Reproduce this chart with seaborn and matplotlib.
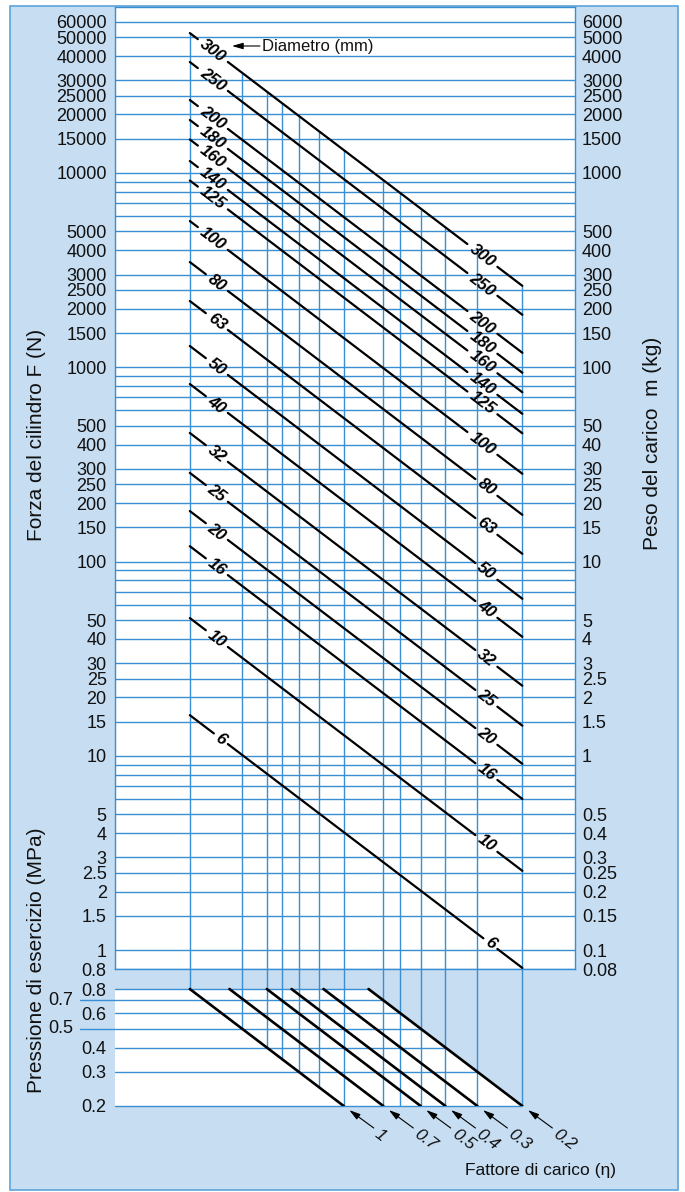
import math
import numpy as np
import pandas as pd
import matplotlib
matplotlib.use("Agg")
import matplotlib.pyplot as plt
import matplotlib.transforms as mtransforms
from matplotlib.patches import Rectangle
from matplotlib.ticker import NullLocator, FixedLocator, FixedFormatter
import seaborn as sns

# ---------------- data ----------------
DIAMETERS_MM = [300, 250, 200, 180, 160, 140, 125, 100, 80, 63, 50, 40, 32, 25, 20, 16, 10, 6]
# cylinder force (N) read on each bore line at p*eta = 0.8 MPa; force scales with p*eta
FORCE_AT_08_N = [52500, 37250, 23750, 18740, 14870, 11520, 9145, 5660, 3480, 2193,
                 1287, 820, 459, 286, 182, 120, 51.2, 16.2]
LOAD_FACTORS = [1, 0.7, 0.5, 0.4, 0.3, 0.2]
PRESSURE_MAX_MPA = 0.8
PRESSURE_MIN_MPA = 0.2

FORCE_TICKS_N = [60000, 50000, 40000, 30000, 25000, 20000, 15000, 10000,
                 5000, 4000, 3000, 2500, 2000, 1500, 1000,
                 500, 400, 300, 250, 200, 150, 100,
                 50, 40, 30, 25, 20, 15, 10,
                 5, 4, 3, 2.5, 2, 1.5, 1, 0.8]
FORCE_EXTRA_LINES_N = [9000, 8000, 7000, 6000, 900, 800, 700, 600,
                       90, 80, 70, 60, 9, 8, 7, 6]
MASS_TICKS_KG = [6000, 5000, 4000, 3000, 2500, 2000, 1500, 1000,
                 500, 400, 300, 250, 200, 150, 100,
                 50, 40, 30, 25, 20, 15, 10,
                 5, 4, 3, 2.5, 2, 1.5, 1,
                 0.5, 0.4, 0.3, 0.25, 0.2, 0.15, 0.1, 0.08]
PRESSURE_TICKS_MPA = [0.8, 0.7, 0.6, 0.5, 0.4, 0.3, 0.2]
PRESSURE_OFFSET_TICKS_MPA = [0.7, 0.5]
GRID_P_ETA = [0.8, 0.5, 0.4, 0.35, 0.3, 0.25, 0.2, 0.14, 0.12, 0.1, 0.08, 0.06, 0.04]


def fmt(v):
    return f"{v:g}"


BORE_FORCE = dict(zip(DIAMETERS_MM, FORCE_AT_08_N))


def force(p_eta, d_mm):
    """Force (N) on the line of bore d_mm at a given pressure*load factor (MPa)."""
    return np.asarray(p_eta) / 0.8 * BORE_FORCE[d_mm]


# ---------------- style ----------------
sns.set_theme(style="white")
plt.rcParams['font.family'] = ['Liberation Sans', 'DejaVu Sans']
plt.rcParams['text.color'] = '#1a1a1a'

W, H = 685, 1192
PANEL = '#c6ddf2'
EDGE = '#5ea3da'
GRID = '#3a8fd4'
INK = '#111111'

fig = plt.figure(figsize=(W / 100, H / 100), dpi=100)
fig.patch.set_facecolor('white')


def box(l, t, r, b):
    return [l / W, 1 - b / H, (r - l) / W, (b - t) / H]


fig.add_artist(Rectangle((10 / W, 1 - 1190 / H), (678 - 10) / W, (1190 - 6) / H,
                         transform=fig.transFigure, fc=PANEL, ec=EDGE, lw=1.2, zorder=-5))

p_eta_min = PRESSURE_MIN_MPA * min(LOAD_FACTORS)
p_eta_max = PRESSURE_MAX_MPA * max(LOAD_FACTORS)
XLIM = (1.57, 0.0249)

# ---------------- upper chart: force vs p*eta ----------------
ax = fig.add_axes(box(115, 7, 575, 969))
ax.set_facecolor('white')
ax.set_xscale('log')
ax.set_yscale('log')
ax.set_xlim(*XLIM)
ax.set_ylim(0.8, 7.15e4)
for s in ax.spines.values():
    s.set_color(GRID)
    s.set_linewidth(1.0)
ax.xaxis.set_major_locator(NullLocator())
ax.xaxis.set_minor_locator(NullLocator())
ax.yaxis.set_major_locator(FixedLocator(FORCE_TICKS_N))
ax.yaxis.set_major_formatter(FixedFormatter([fmt(v) for v in FORCE_TICKS_N]))
ax.yaxis.set_minor_locator(NullLocator())
ax.tick_params(axis='y', length=0, pad=6, labelsize=13, labelcolor=INK)

for f in FORCE_TICKS_N + FORCE_EXTRA_LINES_N:
    ax.axhline(f, color=GRID, lw=1.0, zorder=1)

grid = np.array(GRID_P_ETA)
ax.vlines(grid, 0.8, force(grid, max(DIAMETERS_MM)), color=GRID, lw=1.0, zorder=1)

# right-hand mass scale
axr = ax.twinx()
axr.set_yscale('log')
axr.set_ylim(0.08, 7.15e3)
axr.yaxis.set_major_locator(FixedLocator(MASS_TICKS_KG))
axr.yaxis.set_major_formatter(FixedFormatter([fmt(v) for v in MASS_TICKS_KG]))
axr.yaxis.set_minor_locator(NullLocator())
axr.tick_params(axis='y', length=0, pad=5, labelsize=13, labelcolor=INK)
for s in axr.spines.values():
    s.set_visible(False)

# pixel helpers along the p*eta axis
x_start = ax.transData.transform((p_eta_max, 1))[0]
x_end = ax.transData.transform((p_eta_min, 1))[0]
inv = ax.transData.inverted()


def p_eta_at(offset_px):
    return inv.transform((x_start + offset_px, 100))[0]


span = x_end - x_start
d0 = ax.transData.transform((p_eta_max, force(p_eta_max, 300)))
d1 = ax.transData.transform((p_eta_min, force(p_eta_min, 300)))
angle = math.degrees(math.atan2(d1[1] - d0[1], d1[0] - d0[0]))

rows = []
labels = []
for d in DIAMETERS_MM:
    n = len(str(d))
    gap = 6 + 8 * n
    segs = [(0, 38 - gap), (38, span - 25 - gap), (span - 25, span)]
    for k, (a, b) in enumerate(segs):
        for off in (a, b):
            pe = p_eta_at(off)
            rows.append({'p_eta': pe, 'force': float(force(pe, d)), 'unit': f'{d}-{k}'})
    for c in (38 - gap / 2, span - 25 - gap / 2):
        pe = p_eta_at(c)
        labels.append((pe, float(force(pe, d)), str(d)))

df_d = pd.DataFrame(rows)
sns.lineplot(data=df_d, x='p_eta', y='force', units='unit', estimator=None,
             sort=False, color='black', lw=1.6, ax=ax, legend=False, zorder=3)
ax.set_xlabel('')
ax.set_ylabel('')
for pe, f, t in labels:
    ax.text(pe, f, t, rotation=angle, rotation_mode='anchor', ha='center', va='center',
            fontsize=12, fontweight='bold', fontstyle='italic', color='black', zorder=4)

# ---------------- lower chart: pressure vs p*eta ----------------
ax2 = fig.add_axes(box(115, 969, 575, 1106))
ax2.set_facecolor('none')
ax2.set_xscale('log')
ax2.set_yscale('log')
ax2.set_xlim(*XLIM)
ax2.set_ylim(PRESSURE_MIN_MPA, PRESSURE_MIN_MPA * 10 ** (137 / 194.3))
for s in ax2.spines.values():
    s.set_visible(False)
ax2.xaxis.set_major_locator(NullLocator())
ax2.xaxis.set_minor_locator(NullLocator())
main_p = [p for p in PRESSURE_TICKS_MPA if p not in PRESSURE_OFFSET_TICKS_MPA]
ax2.yaxis.set_major_locator(FixedLocator(main_p))
ax2.yaxis.set_major_formatter(FixedFormatter([fmt(v) for v in main_p]))
ax2.yaxis.set_minor_locator(NullLocator())
ax2.tick_params(axis='y', length=0, pad=6, labelsize=13, labelcolor=INK)

eta_min = min(LOAD_FACTORS)
ax2.fill([XLIM[0], PRESSURE_MAX_MPA * eta_min, PRESSURE_MIN_MPA * eta_min, XLIM[0]],
         [PRESSURE_MAX_MPA, PRESSURE_MAX_MPA, PRESSURE_MIN_MPA, PRESSURE_MIN_MPA],
         color='white', lw=0, zorder=0)

inv2 = ax2.transData.inverted()
x_far_left = inv2.transform((80, 100))[0]
for p in PRESSURE_TICKS_MPA:
    x0 = x_far_left if p in PRESSURE_OFFSET_TICKS_MPA else XLIM[0]
    ax2.plot([x0, p * eta_min], [p, p], color=GRID, lw=1.0, zorder=1, clip_on=False)
fig_y = mtransforms.blended_transform_factory(fig.transFigure, ax2.transData)
for p in PRESSURE_OFFSET_TICKS_MPA:
    ax2.text(73 / W, p, fmt(p), transform=fig_y, ha='right', va='center',
             fontsize=13, color=INK)

ax2.vlines(grid, np.maximum(grid, PRESSURE_MIN_MPA), ax2.get_ylim()[1], color=GRID, lw=1.0, zorder=1)

eta_rows = []
for eta in LOAD_FACTORS:
    for p in (PRESSURE_MAX_MPA, PRESSURE_MIN_MPA):
        eta_rows.append({'p_eta': p * eta, 'pressure': p, 'eta': str(eta)})
df_e = pd.DataFrame(eta_rows)
sns.lineplot(data=df_e, x='p_eta', y='pressure', units='eta', estimator=None,
             sort=False, color='black', lw=1.9, ax=ax2, legend=False, zorder=3)
ax2.set_xlabel('')
ax2.set_ylabel('')

for eta in LOAD_FACTORS:
    end = (PRESSURE_MIN_MPA * eta, PRESSURE_MIN_MPA)
    ax2.annotate('', xy=end, xytext=(30, -22), textcoords='offset pixels',
                 arrowprops=dict(arrowstyle='-|>,head_length=0.55,head_width=0.16',
                                 color='black', lw=0.8, shrinkA=0, shrinkB=5),
                 annotation_clip=False)
    ax2.annotate(fmt(eta), xy=end, xytext=(33, -26), textcoords='offset pixels',
                 rotation=angle, rotation_mode='anchor', ha='left', va='center',
                 fontsize=12.5, fontstyle='italic', color=INK, annotation_clip=False)

# ---------------- titles and notes ----------------
fig.text(37 / W, 1 - 435 / H, 'Forza del cilindro F (N)', rotation=90,
         ha='center', va='center', fontsize=15, color=INK)
fig.text(37 / W, 1 - 960 / H, 'Pressione di esercizio (MPa)', rotation=90,
         ha='center', va='center', fontsize=15, color=INK)
fig.text(652 / W, 1 - 443 / H, 'Peso del carico  m (kg)', rotation=90,
         ha='center', va='center', fontsize=15, color=INK)
fig.text(465 / W, 1 - 1170 / H, 'Fattore di carico (η)', ha='left', va='center',
         fontsize=12.5, color=INK)

ax.annotate('', xy=(232, H - 46), xycoords='figure pixels',
            xytext=(260, H - 46), textcoords='figure pixels',
            arrowprops=dict(arrowstyle='-|>,head_length=0.55,head_width=0.16',
                            color='black', lw=0.8, shrinkA=0, shrinkB=0),
            annotation_clip=False)
fig.text(262 / W, 1 - 47 / H, 'Diametro (mm)', ha='left', va='center',
         fontsize=12, color=INK)

fig.savefig('out.png', dpi=100)
